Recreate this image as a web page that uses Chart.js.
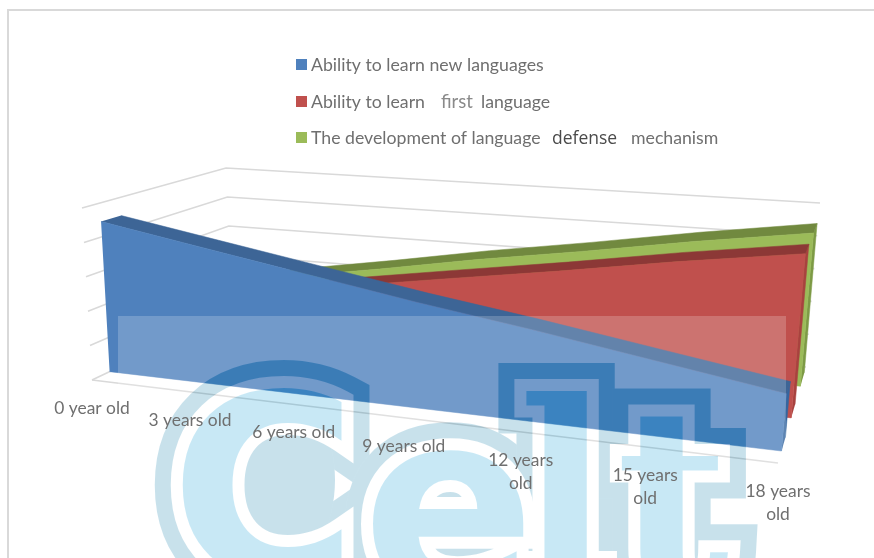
<!DOCTYPE html>
<html lang="en">
<head>
    <meta charset="UTF-8">
    <title>Language ability by age</title>
    <script src="https://cdn.jsdelivr.net/npm/chart.js"></script>
    <style>
        html, body { margin: 0; padding: 0; background: #fff; }
        canvas { display: block; }
    </style>
</head>
<body>
    <canvas id="areaChart" width="874" height="558"></canvas>

    <script>
        // Chart data
        const categories = ['0 year old', '3 years old', '6 years old', '9 years old', '12 years old', '15 years old', '18 years old'];
        const newLanguages = [89, 79, 69, 59, 50, 40, 30];
        const firstLanguage = [30, 40, 50, 60, 70, 81, 91];
        const defenseMechanism = [28, 38, 48, 59, 69, 80, 90];
        const gridLevels = [0, 20, 40, 60, 80, 100];

        // Legend text, split where the typeface changes
        const legendBlue = [['Ability to learn new languages', 311, 0]];
        const legendRed = [['Ability to learn', 311, 0], ['first', 441, 1], ['language', 481, 0]];
        const legendGreen = [['The development of language', 311, 0], ['defense', 552, 2], ['mechanism', 631, 0]];

        // Oblique box the 3D area is projected into (bottom and top of each vertical edge)
        const box = {
            frontLeft: [[92, 380], [82, 208]],
            backLeft: [[233, 313], [226, 168]],
            frontRight: [[778, 463], [795, 268]],
            backRight: [[806, 367], [820, 203]]
        };
        const perspective = 1.2;
        const sliceDepth = 0.14;

        const mix = (a, b, k) => [a[0] + (b[0] - a[0]) * k, a[1] + (b[1] - a[1]) * k];

        // t: position along the age axis, d: depth into the box, value: 0-100
        function project(t, d, value) {
            const tp = t / (t + (1 - t) * perspective);
            const bottom = mix(mix(box.frontLeft[0], box.frontRight[0], tp), mix(box.backLeft[0], box.backRight[0], tp), d);
            const top = mix(mix(box.frontLeft[1], box.frontRight[1], tp), mix(box.backLeft[1], box.backRight[1], tp), d);
            const p = mix(bottom, top, value / 100);
            return { x: p[0], y: p[1] };
        }

        const lastIndex = categories.length - 1;
        const tOf = i => i / lastIndex;

        function polygon(label, points, color) {
            return {
                label: label,
                data: points,
                showLine: true,
                fill: 'shape',
                backgroundColor: color,
                borderColor: color,
                borderWidth: 0.5,
                pointRadius: 0,
                tension: 0
            };
        }

        function gridLine(points) {
            return {
                data: points,
                showLine: true,
                fill: false,
                borderColor: '#d9d9d9',
                borderWidth: 1.6,
                pointRadius: 0,
                tension: 0
            };
        }

        // Three faces of one area slice: right end, top, front
        function sliceFaces(name, values, d, colors) {
            const back = d + sliceDepth;
            const last = values[lastIndex];
            const front = values.map((v, i) => project(tOf(i), d, v));
            const topBack = values.map((v, i) => project(tOf(i), back, v)).reverse();
            return [
                polygon(name + ' side', [project(1, d, 0), project(1, d, last), project(1, back, last), project(1, back, 0)], colors[2]),
                polygon(name + ' top', front.concat(topBack), colors[1]),
                polygon(name, front.concat([project(1, d, 0), project(0, d, 0)]), colors[0])
            ];
        }

        const walls = [];
        gridLevels.forEach(level => {
            walls.push(gridLine([project(0, 0, level), project(0, 1, level), project(1, 1, level)]));
        });
        walls.push(gridLine([project(0, 0, 0), project(1, 0, 0)]));

        // listed back to front, the chart paints the first dataset last
        const painted = walls
            .concat(sliceFaces('The development of language defense mechanism', defenseMechanism, 0.80, ['#9bbb59', '#71893f', '#7d9a45']))
            .concat(sliceFaces('Ability to learn first language', firstLanguage, 0.47, ['#c0504d', '#8c3836', '#a8423f']))
            .concat(sliceFaces('Ability to learn new languages', newLanguages, 0.125, ['#4f81bd', '#3d6596', '#35669f']));

        const legendFonts = [
            ['17.7px Lato', '#6f6f6f'],
            ['18.5px Lato', '#8a8a8a'],
            ['17.5px "Open Sans"', '#4a4a4a']
        ];

        function drawLegend(ctx) {
            const rows = [[legendBlue, '#4f81bd', 70], [legendRed, '#c0504d', 107], [legendGreen, '#9bbb59', 143]];
            rows.forEach(row => {
                ctx.fillStyle = row[1];
                ctx.fillRect(296, row[2] - 11, 11, 11);
                row[0].forEach(run => {
                    ctx.font = legendFonts[run[2]][0];
                    ctx.fillStyle = legendFonts[run[2]][1];
                    ctx.fillText(run[0], run[1], row[2] + 0.5);
                });
            });
        }

        function drawAxisLabels(ctx) {
            ctx.font = '17.4px Lato';
            ctx.fillStyle = '#6f6f6f';
            ctx.textAlign = 'center';
            categories.forEach((name, i) => {
                const p = project(tOf(i), 0, 0);
                // the longer names wrap onto two lines
                const lines = i > 3 ? [name.slice(0, name.indexOf(' old')), 'old'] : [name];
                lines.forEach((line, n) => ctx.fillText(line, p.x, p.y + 34 + n * 23));
            });
            ctx.textAlign = 'left';
        }

        // Logo across the lower part of the plot: ring, white gap, solid letters
        function drawLogo(ctx) {
            const layer = document.createElement('canvas');
            layer.width = 874;
            layer.height = 558;
            const g = layer.getContext('2d');
            const sans = 'bold 256px "DejaVu Sans"';
            const serif = 'bold 245px "DejaVu Serif"';
            const letters = [['C', 170, 578, sans], ['e', 362, 594, sans], ['l', 518, 578, serif], ['t', 616, 584, serif]];
            const eachLetter = draw => letters.forEach(l => {
                g.font = l[3];
                draw(l[0], l[1], l[2]);
            });
            g.lineJoin = 'miter';
            g.miterLimit = 3;
            g.strokeStyle = 'rgb(55,30,20)';
            g.fillStyle = 'rgb(55,30,20)';
            g.lineWidth = 56;
            eachLetter((c, x, y) => g.strokeText(c, x, y));
            // counter of the C stays tinted
            g.beginPath();
            g.ellipse(285, 480, 50, 85, 0, 0, Math.PI * 2);
            g.fill();
            g.globalCompositeOperation = 'destination-out';
            g.lineWidth = 24;
            eachLetter((c, x, y) => {
                g.strokeText(c, x, y);
                g.fillText(c, x, y);
            });
            g.globalCompositeOperation = 'source-over';
            g.fillStyle = 'rgb(55,23,10)';
            eachLetter((c, x, y) => g.fillText(c, x, y));

            ctx.fillStyle = 'rgba(255,255,255,0.2)';
            ctx.fillRect(118, 316, 668, 242);
            ctx.globalCompositeOperation = 'difference';
            ctx.drawImage(layer, 0, 0);
            ctx.globalCompositeOperation = 'source-over';
        }

        const decorations = {
            id: 'decorations',
            beforeDatasetsDraw(chart) {
                const ctx = chart.ctx;
                ctx.save();
                ctx.fillStyle = '#fff';
                ctx.fillRect(0, 0, 874, 558);
                ctx.strokeStyle = '#d9d9d9';
                ctx.lineWidth = 2;
                ctx.beginPath();
                ctx.moveTo(8, 558);
                ctx.lineTo(8, 10);
                ctx.lineTo(874, 10);
                ctx.stroke();
                ctx.restore();
            },
            afterDatasetsDraw(chart) {
                const ctx = chart.ctx;
                ctx.save();
                drawLogo(ctx);
                drawLegend(ctx);
                drawAxisLabels(ctx);
                ctx.restore();
            }
        };

        new Chart(document.getElementById('areaChart'), {
            type: 'scatter',
            data: { datasets: painted.reverse() },
            options: {
                responsive: false,
                animation: false,
                layout: { padding: 0 },
                scales: {
                    x: { type: 'linear', min: 0, max: 874, display: false },
                    y: { type: 'linear', min: 0, max: 558, reverse: true, display: false }
                },
                plugins: {
                    legend: { display: false },
                    tooltip: { enabled: false }
                }
            },
            plugins: [decorations]
        });
    </script>
</body>
</html>
